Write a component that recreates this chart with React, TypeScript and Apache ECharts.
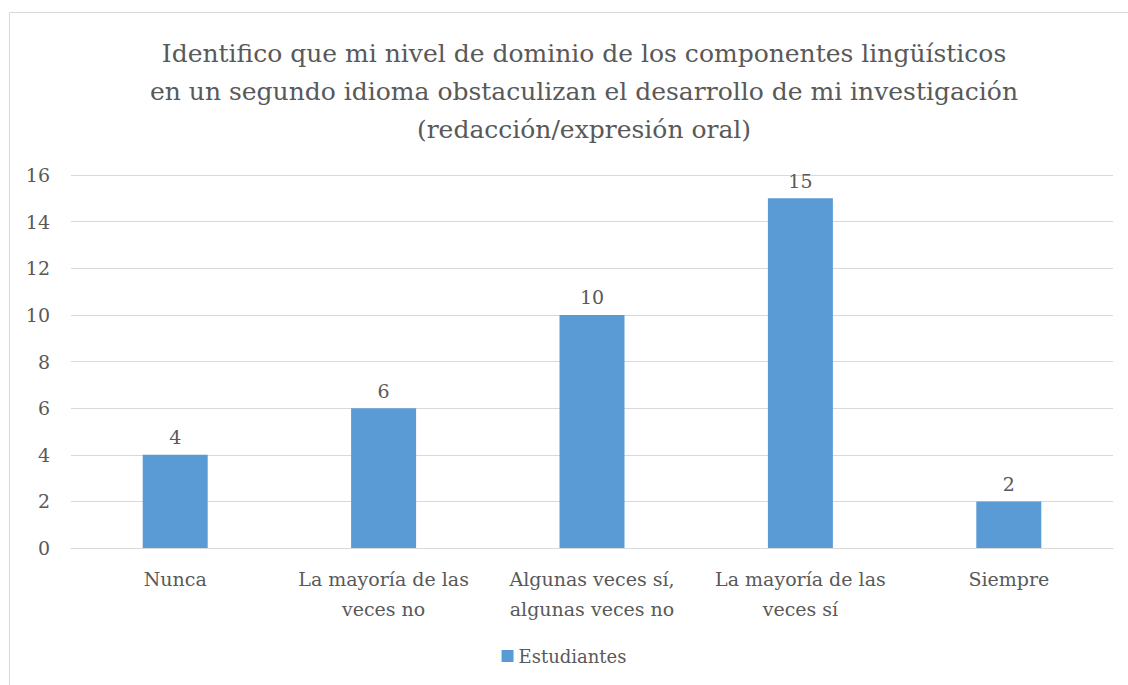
import React, { useEffect, useRef } from "react";
import * as echarts from "echarts";

const categories = [
  "Nunca",
  "La mayoría de las\nveces no",
  "Algunas veces sí,\nalgunas veces no",
  "La mayoría de las\nveces sí",
  "Siempre",
];
const estudiantes = [4, 6, 10, 15, 2];
const seriesName = "Estudiantes";
const titleText =
  "Identifico que mi nivel de dominio de los componentes lingüísticos\nen un segundo idioma obstaculizan el desarrollo de mi investigación\n(redacción/expresión oral)";

const FONT = "DejaVu Serif";
const TXT = "#595959";

export default function App() {
  const ref = useRef<HTMLDivElement>(null);
  useEffect(() => {
    const chart = echarts.init(ref.current!, null, { renderer: "svg" });
    chart.setOption({
      animation: false,
      backgroundColor: "#fff",
      textStyle: { fontFamily: FONT },
      graphic: [
        {
          type: "rect",
          shape: { x: 9.5, y: 12.5, width: 1140, height: 700 },
          style: { fill: "none", stroke: "#D9D9D9", lineWidth: 1 },
          silent: true,
        },
      ],
      title: {
        text: titleText,
        left: 579,
        top: 29,
        textAlign: "center",
        textStyle: {
          fontFamily: FONT,
          fontSize: 25,
          fontWeight: "normal",
          color: TXT,
          lineHeight: 38,
        },
      },
      legend: {
        data: [seriesName],
        bottom: 15,
        left: "center",
        itemWidth: 12,
        itemHeight: 12,
        itemGap: 4,
        icon: "rect",
        textStyle: { fontFamily: FONT, fontSize: 18, color: TXT },
      },
      grid: { left: 71, right: 15, top: 175, bottom: 137, containLabel: false },
      xAxis: {
        type: "category",
        data: categories,
        axisLine: { lineStyle: { color: "#D9D9D9", width: 1 } },
        axisTick: { show: false },
        axisLabel: {
          fontFamily: FONT,
          fontSize: 19,
          color: TXT,
          lineHeight: 30,
          margin: 16,
          interval: 0,
        },
      },
      yAxis: {
        type: "value",
        min: 0,
        max: 16,
        interval: 2,
        axisLine: { show: false },
        axisTick: { show: false },
        splitLine: { lineStyle: { color: "#D9D9D9", width: 1 } },
        axisLabel: {
          fontFamily: FONT,
          fontSize: 19,
          color: TXT,
          margin: 21,
        },
      },
      series: [
        {
          name: seriesName,
          type: "bar",
          data: estudiantes,
          barWidth: 65,
          itemStyle: { color: "#5B9BD5" },
          label: {
            show: true,
            position: "top",
            distance: 8,
            fontFamily: FONT,
            fontSize: 19,
            color: TXT,
          },
        },
      ],
    });
    return () => chart.dispose();
  }, []);
  return (
    <div
      ref={ref}
      style={{ position: "absolute", left: 0, top: 0, width: 1128, height: 685 }}
    />
  );
}
